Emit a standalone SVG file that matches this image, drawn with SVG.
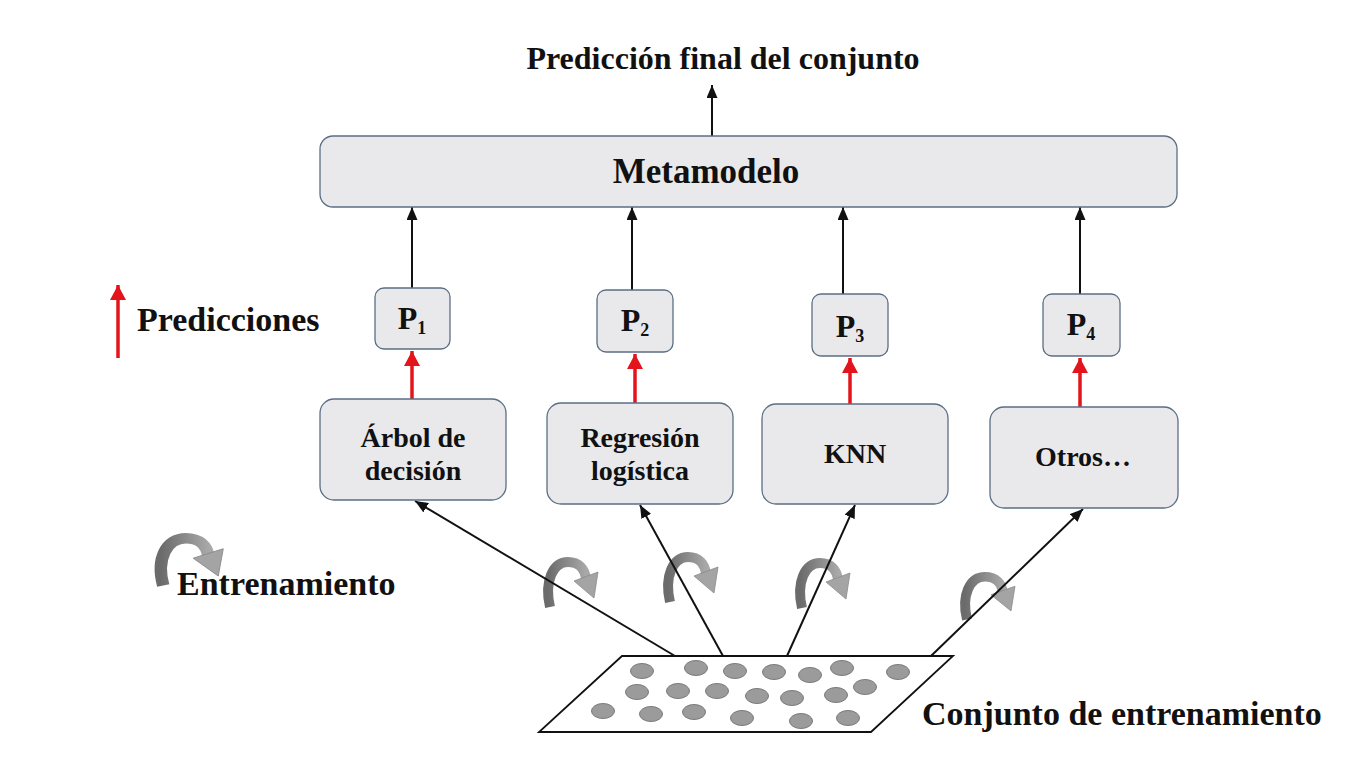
<svg xmlns="http://www.w3.org/2000/svg" width="1365" height="768" viewBox="0 0 1365 768">
<defs>
<style>
.box{fill:#e9e9eb;stroke:#5b6e85;stroke-width:1.3}
.t{font-family:"Liberation Serif","Times New Roman",serif;font-weight:bold;fill:#111}
.big{font-size:34px}
.mid{font-size:28px}
.pl{font-size:32px}
.blk{stroke:#111;stroke-width:2;fill:none}
.red{stroke:#e3141b;stroke-width:3.5;fill:none}
.dot{fill:#9b9b9b;stroke:#7a7a7a;stroke-width:1}
</style>
<marker id="ab" markerUnits="userSpaceOnUse" markerWidth="13" markerHeight="11" refX="13" refY="5.5" orient="auto">
<path d="M0,0 L13,5.5 L0,11 z" fill="#111"/>
</marker>
<marker id="ar" markerUnits="userSpaceOnUse" markerWidth="15" markerHeight="16" refX="15" refY="8" orient="auto">
<path d="M0,0 L15,8 L0,16 z" fill="#e3141b"/>
</marker>
<linearGradient id="cg" x1="0" y1="0" x2="1" y2="0">
<stop offset="0" stop-color="#6b6b6b"/>
<stop offset="1" stop-color="#a8a8a8"/>
</linearGradient>
<g id="curl">
<path d="M9,50 C3,24 12,5 27,5 C38,5 44,12 45,22" fill="none" stroke="url(#cg)" stroke-width="10"/>
<polygon points="33,24 57,15 53,41" fill="#a4a4a4" stroke="#8a8a8a" stroke-width="0.8"/>
</g>
</defs>
<rect width="1365" height="768" fill="#ffffff"/>

<g id="title"><text class="t" font-size="32" x="723" y="69" text-anchor="middle">Predicción final del conjunto</text></g>

<g id="curls">
<use href="#curl" transform="translate(541,557)"/>
<use href="#curl" transform="translate(661,552)"/>
<use href="#curl" transform="translate(793,558)"/>
<use href="#curl" transform="translate(958,572) scale(1,0.95)"/>
</g>

<g id="connectors">
<line class="blk" x1="712" y1="136" x2="712" y2="85" marker-end="url(#ab)"/>
<line class="blk" x1="412" y1="288" x2="412" y2="207" marker-end="url(#ab)"/>
<line class="blk" x1="632" y1="290" x2="632" y2="207" marker-end="url(#ab)"/>
<line class="blk" x1="843" y1="294" x2="843" y2="207" marker-end="url(#ab)"/>
<line class="blk" x1="1080" y1="294" x2="1080" y2="207" marker-end="url(#ab)"/>
<line class="red" x1="412" y1="399" x2="412" y2="351" marker-end="url(#ar)"/>
<line class="red" x1="635" y1="403" x2="635" y2="354" marker-end="url(#ar)"/>
<line class="red" x1="850" y1="404" x2="850" y2="358" marker-end="url(#ar)"/>
<line class="red" x1="1080" y1="407" x2="1080" y2="358" marker-end="url(#ar)"/>
<line class="blk" x1="675" y1="656" x2="415" y2="501" marker-end="url(#ab)"/>
<line class="blk" x1="723" y1="656" x2="640" y2="505" marker-end="url(#ab)"/>
<line class="blk" x1="787" y1="656" x2="855" y2="505" marker-end="url(#ab)"/>
<line class="blk" x1="931" y1="656" x2="1083" y2="509" marker-end="url(#ab)"/>
</g>

<g id="metamodelo">
<rect class="box" x="320" y="136" width="857" height="71" rx="13"/>
<text class="t" font-size="35" x="706" y="183" text-anchor="middle">Metamodelo</text>
</g>

<g id="p1"><rect class="box" x="375" y="288" width="75" height="61" rx="9"/>
<text class="t pl" x="412" y="329" text-anchor="middle">P<tspan font-size="18" dy="5">1</tspan></text></g>
<g id="p2"><rect class="box" x="597" y="290" width="76" height="62" rx="9"/>
<text class="t pl" x="635" y="331" text-anchor="middle">P<tspan font-size="18" dy="5">2</tspan></text></g>
<g id="p3"><rect class="box" x="812" y="294" width="76" height="62" rx="9"/>
<text class="t pl" x="850" y="337" text-anchor="middle">P<tspan font-size="18" dy="5">3</tspan></text></g>
<g id="p4"><rect class="box" x="1043" y="294" width="77" height="62" rx="9"/>
<text class="t pl" x="1081" y="335" text-anchor="middle">P<tspan font-size="18" dy="5">4</tspan></text></g>

<g id="arbol"><rect class="box" x="320" y="399" width="186" height="101" rx="14"/>
<text class="t mid" x="413" y="447" text-anchor="middle">Árbol de</text>
<text class="t mid" x="413" y="480" text-anchor="middle">decisión</text></g>
<g id="regresion"><rect class="box" x="547" y="403" width="186" height="101" rx="14"/>
<text class="t mid" x="640" y="447" text-anchor="middle">Regresión</text>
<text class="t mid" x="640" y="480" text-anchor="middle">logística</text></g>
<g id="knn"><rect class="box" x="762" y="404" width="186" height="100" rx="14"/>
<text class="t mid" x="855" y="463" text-anchor="middle">KNN</text></g>
<g id="otros"><rect class="box" x="990" y="407" width="188" height="101" rx="14"/>
<text class="t mid" x="1083" y="466" text-anchor="middle">Otros…</text></g>

<g id="legend">
<line class="red" x1="118" y1="358" x2="118" y2="285" marker-end="url(#ar)"/>
<text class="t big" x="137" y="331">Predicciones</text>
<use href="#curl" transform="translate(152,533) scale(1.25,1.05)"/>
<text class="t big" x="177" y="595">Entrenamiento</text>
</g>

<g id="dataset">
<polygon points="622,656 953,656 871,732 539,732" fill="#ffffff" stroke="#111" stroke-width="1.8"/>
<ellipse class="dot" cx="642" cy="671" rx="11.5" ry="7.5"/>
<ellipse class="dot" cx="696" cy="668" rx="11.5" ry="7.5"/>
<ellipse class="dot" cx="735" cy="671" rx="11.5" ry="7.5"/>
<ellipse class="dot" cx="774" cy="672" rx="11.5" ry="7.5"/>
<ellipse class="dot" cx="810" cy="675" rx="11.5" ry="7.5"/>
<ellipse class="dot" cx="842" cy="668" rx="11.5" ry="7.5"/>
<ellipse class="dot" cx="898" cy="672" rx="11.5" ry="7.5"/>
<ellipse class="dot" cx="637" cy="692" rx="11.5" ry="7.5"/>
<ellipse class="dot" cx="678" cy="691" rx="11.5" ry="7.5"/>
<ellipse class="dot" cx="717" cy="691" rx="11.5" ry="7.5"/>
<ellipse class="dot" cx="757" cy="696" rx="11.5" ry="7.5"/>
<ellipse class="dot" cx="792" cy="698" rx="11.5" ry="7.5"/>
<ellipse class="dot" cx="836" cy="695" rx="11.5" ry="7.5"/>
<ellipse class="dot" cx="865" cy="687" rx="11.5" ry="7.5"/>
<ellipse class="dot" cx="603" cy="711" rx="11.5" ry="7.5"/>
<ellipse class="dot" cx="651" cy="714" rx="11.5" ry="7.5"/>
<ellipse class="dot" cx="694" cy="712" rx="11.5" ry="7.5"/>
<ellipse class="dot" cx="742" cy="718" rx="11.5" ry="7.5"/>
<ellipse class="dot" cx="801" cy="721" rx="11.5" ry="7.5"/>
<ellipse class="dot" cx="848" cy="718" rx="11.5" ry="7.5"/>
<text class="t big" x="922" y="725">Conjunto de entrenamiento</text>
</g>
</svg>
